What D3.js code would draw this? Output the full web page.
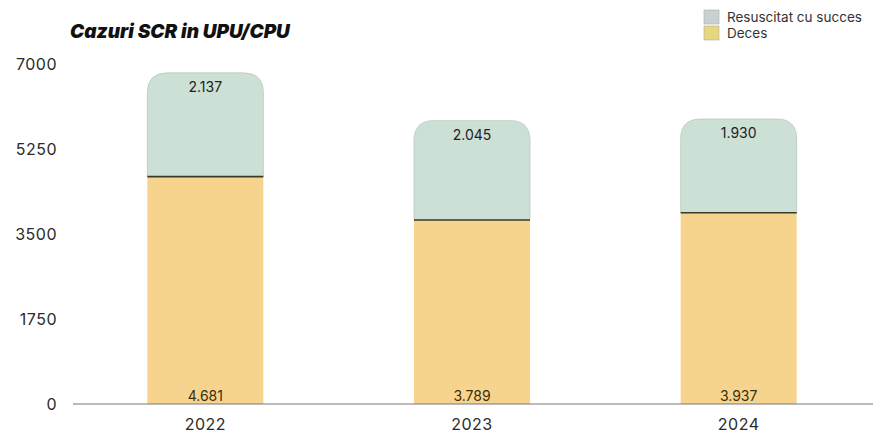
<!DOCTYPE html>
<html>
<head>
<meta charset="utf-8">
<script src="https://cdn.jsdelivr.net/npm/d3@7"></script>
<style>
  body { margin: 0; background: #fff; }
  svg { display: block; font-family: Inter, "Noto Sans", sans-serif; }
</style>
</head>
<body>
<div id="chart"></div>
<script>
// data
var years = ["2022", "2023", "2024"];
var deces = [4681, 3789, 3937];
var resuscitat = [2137, 2045, 1930];
var yTicks = [0, 1750, 3500, 5250, 7000];
var seriesNames = ["Resuscitat cu succes", "Deces"];
var labelFmt = function(v){ return String(v).replace(/\B(?=(\d{3})+(?!\d))/g, "."); };

var W = 883, H = 447;
var svg = d3.select("#chart").append("svg")
  .attr("width", W)
  .attr("height", H);

var x = d3.scaleBand()
  .domain(years)
  .range([72, 872])
  .paddingInner(0.565)
  .paddingOuter(0.2825);

var y = d3.scaleLinear()
  .domain([0, 7000])
  .range([404, 64]);

// y labels
svg.selectAll(".ylab")
  .data(yTicks)
  .enter()
  .append("text")
  .attr("class", "ylab")
  .attr("x", 57)
  .attr("y", function(d){ return y(d); })
  .attr("dy", ".35em")
  .attr("text-anchor", "end")
  .style("font-size", "16px")
  .style("letter-spacing", "0.5px")
  .style("fill", "#2b2b2b")
  .text(String);

var bw = x.bandwidth();
var r = 20;

// stacked bars
years.forEach(function(yr, i){
  var x0 = x(yr);
  var total = deces[i] + resuscitat[i];
  var yTop = y(total), yMid = y(deces[i]), yBase = y(0);

  // top segment, rounded corners
  var p = d3.path();
  p.moveTo(x0, yMid);
  p.lineTo(x0, yTop + r);
  p.quadraticCurveTo(x0, yTop, x0 + r, yTop);
  p.lineTo(x0 + bw - r, yTop);
  p.quadraticCurveTo(x0 + bw, yTop, x0 + bw, yTop + r);
  p.lineTo(x0 + bw, yMid);
  p.closePath();
  svg.append("path")
    .attr("d", p.toString())
    .attr("fill", "#cde0d5")
    .attr("stroke", "#b8c9bf")
    .attr("stroke-width", 0.8);

  svg.append("rect")
    .attr("x", x0)
    .attr("y", yMid)
    .attr("width", bw)
    .attr("height", yBase - yMid)
    .attr("fill", "#f6d48e");

  // divider
  svg.append("line")
    .attr("x1", x0).attr("x2", x0 + bw)
    .attr("y1", yMid).attr("y2", yMid)
    .attr("stroke", "#3a3a2a")
    .attr("stroke-width", 1.6);

  svg.append("text")
    .attr("x", x0 + bw / 2)
    .attr("y", yTop + 19)
    .attr("text-anchor", "middle")
    .style("font-size", "14px")
    .style("fill", "#222")
    .text(labelFmt(resuscitat[i]));

  svg.append("text")
    .attr("x", x0 + bw / 2)
    .attr("y", yBase - 3)
    .attr("text-anchor", "middle")
    .style("font-size", "14px")
    .style("fill", "#3a2f10")
    .text(labelFmt(deces[i]));
});

// baseline
svg.append("line")
  .attr("x1", 73).attr("x2", 873)
  .attr("y1", y(0)).attr("y2", y(0))
  .attr("stroke", "#777")
  .attr("stroke-width", 1.2);

// x labels
svg.selectAll(".xlab")
  .data(years)
  .enter()
  .append("text")
  .attr("class", "xlab")
  .attr("x", function(d){ return x(d) + bw / 2; })
  .attr("y", 430)
  .attr("text-anchor", "middle")
  .style("font-size", "16px")
  .style("letter-spacing", "0.5px")
  .style("fill", "#2b2b2b")
  .text(String);

// title
svg.append("text")
  .attr("x", 70)
  .attr("y", 38)
  .style("font-size", "19px")
  .style("font-weight", "900")
  .style("font-style", "italic")
  .style("fill", "#111")
  .text("Cazuri SCR in UPU/CPU");

// legend
var legColors = ["#c9d0d2", "#e6d67c"];
var leg = svg.selectAll(".leg")
  .data(seriesNames)
  .enter()
  .append("g")
  .attr("class", "leg")
  .attr("transform", function(d, i){ return "translate(704," + (10 + i * 16) + ")"; });
leg.append("rect")
  .attr("width", 15)
  .attr("height", 14)
  .attr("fill", function(d, i){ return legColors[i]; })
  .attr("stroke", "#aaa")
  .attr("stroke-width", 0.6);
leg.append("text")
  .attr("x", 23)
  .attr("y", 7)
  .attr("dy", ".35em")
  .style("font-size", "13.5px")
  .style("fill", "#333")
  .text(String);
</script>
</body>
</html>
